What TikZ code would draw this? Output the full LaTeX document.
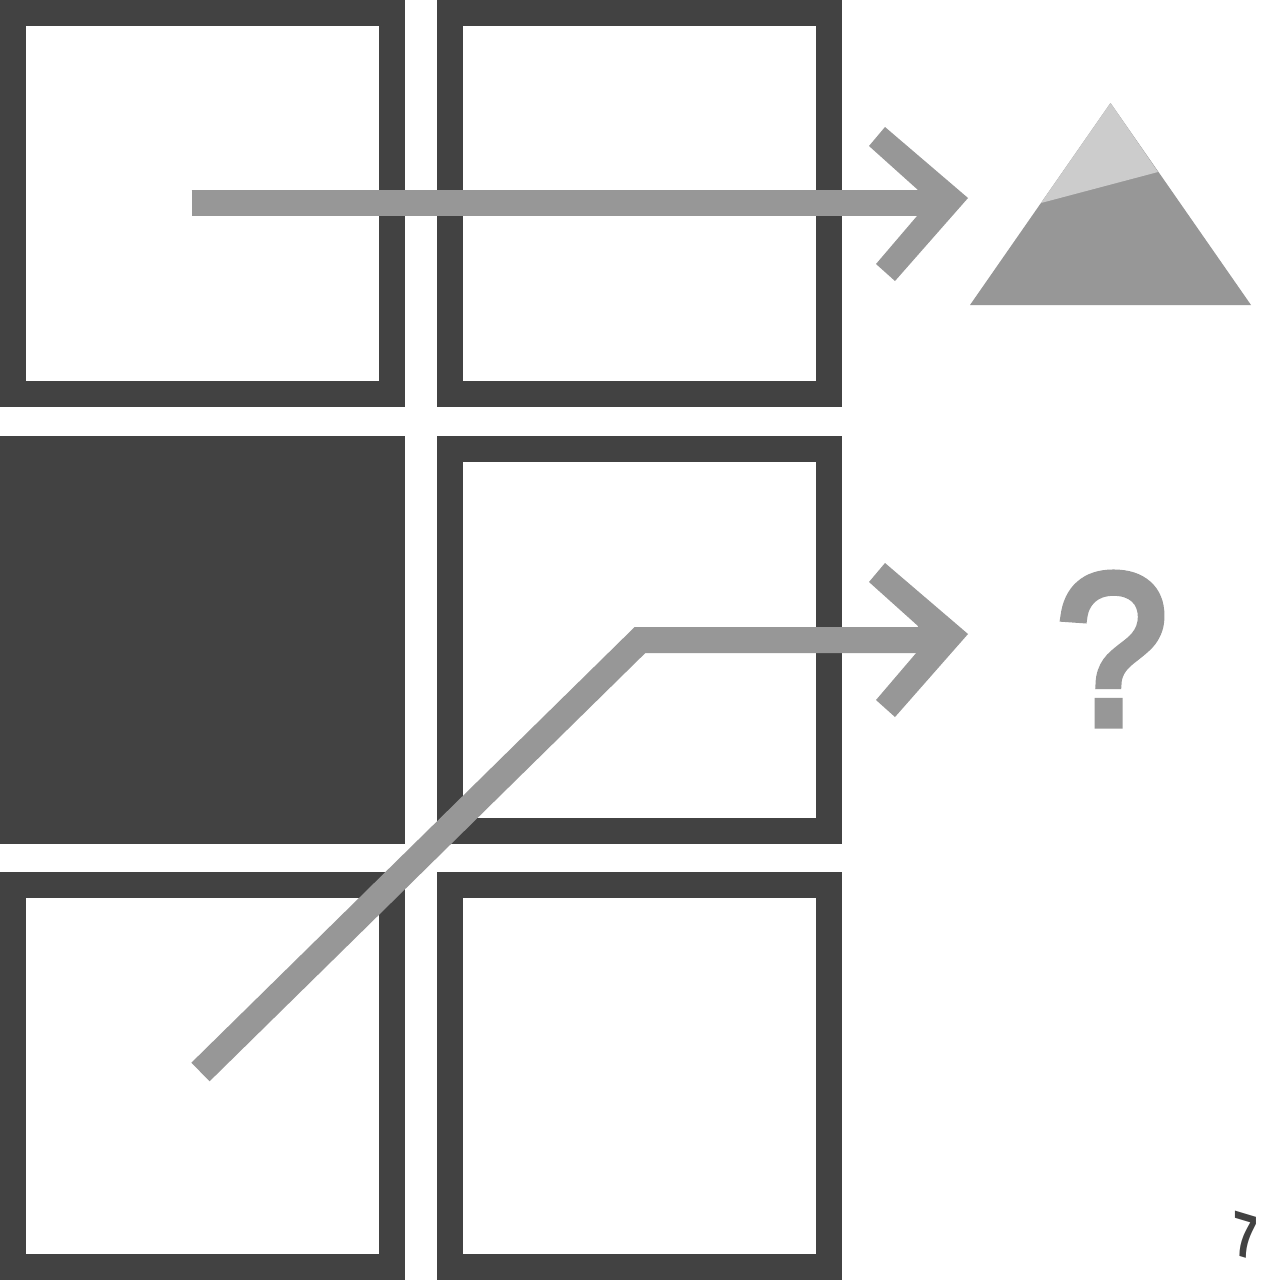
\documentclass[tikz,border=0pt]{standalone}
\usepackage{fontspec}
\setmainfont{Liberation Sans}
\newfontfamily\markfont[FakeBold=4.5]{Liberation Sans}
\definecolor{dark}{HTML}{424242}
\definecolor{midgrey}{HTML}{979797}
\definecolor{lightgrey}{HTML}{CCCCCC}
\tikzset{
  cell/.style={draw=dark,line width=26pt,rectangle,inner sep=0pt,outer sep=0pt,minimum width=379pt,fill=white},
  solidcell/.style={cell,fill=dark},
  shaft/.style={draw=midgrey,line width=26pt,miter limit=10},
  headfill/.style={fill=midgrey,draw=none},
}
\begin{document}
\begin{tikzpicture}[x=1pt,y=-1pt]
\useasboundingbox (0,0) rectangle (1280,1280);
\fill[white] (0,0) rectangle (1280,1280);
\node[cell,minimum height=381pt] (c11) at (202.5,203.5) {};
\node[cell,minimum height=381pt] (c12) at (639.5,203.5) {};
\node[solidcell,minimum height=382pt] (c21) at (202.5,640) {};
\node[cell,minimum height=382pt] (c22) at (639.5,640) {};
\node[cell,minimum height=382pt] (c31) at (202.5,1076) {};
\node[cell,minimum height=382pt] (c32) at (639.5,1076) {};
\coordinate (a1s) at (191.5,203);
\coordinate (a1e) at (925,203);
\coordinate (a2s) at (200.5,1072);
\coordinate (a2m) at (640,640);
\coordinate (a2e) at (925,640);
\draw[shaft] (a1s) -- (a1e);
\draw[shaft] (a2s) -- (a2m) -- (a2e);
\fill[headfill] (885,127) -- (869,146) -- (918,190) -- (917,216) -- (876,264) -- (895,281) -- (968,198) -- cycle;
\fill[headfill,shift={(0,436)}] (885,127) -- (869,146) -- (918,190) -- (917,216) -- (876,264) -- (895,281) -- (968,198) -- cycle;
\fill[midgrey] (1110.5,103) -- (970,305) -- (1251,305) -- cycle;
\fill[lightgrey] (1110.5,103) -- (1041,203) -- (1158,172) -- cycle;
\node[text=midgrey,inner sep=0pt,xscale=.93,transform shape] (q) at (1112,649) {\fontsize{214}{214}\markfont ?};
\begin{scope}[shift={(1246,1236)},yslant=-0.3,xscale=.7,transform shape]
\node[text=dark,inner sep=0pt] (pg) at (0,0) {\fontsize{64}{64}\selectfont\bfseries 7};
\end{scope}
\end{tikzpicture}
\end{document}
